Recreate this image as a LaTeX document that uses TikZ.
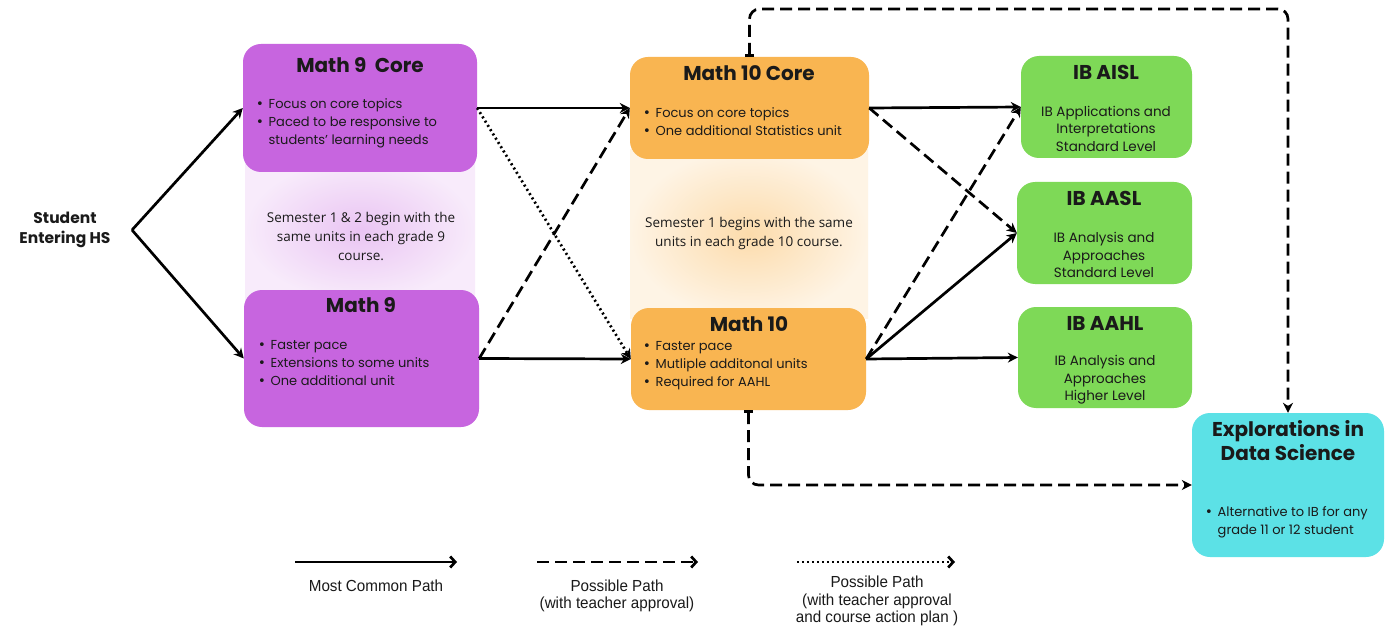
\documentclass[tikz,border=0pt]{standalone}
\usepackage{fontspec}
\setmainfont{Poppins}
\newfontfamily\legendfont[FakeStretch=0.95]{Liberation Sans}
\newfontfamily\semfont{Open Sans}
\newfontfamily\djv{DejaVu Sans}
\newcommand{\bul}{\makebox[12.5pt][l]{{\djv •}}}
\usetikzlibrary{arrows.meta}
\definecolor{purp}{HTML}{C765DF}
\definecolor{orng}{HTML}{F9B551}
\definecolor{grn}{HTML}{7ED957}
\definecolor{cyn}{HTML}{5CE1E6}
\definecolor{txt}{HTML}{1A1A1A}
\begin{document}
\begin{tikzpicture}[x=1pt,y=-1pt,
  box/.style={rounded corners=18pt, inner sep=0pt},
  ttl/.style={font=\fontsize{20}{24}\selectfont\bfseries, text=txt, inner sep=0pt},
  bod/.style={font=\fontsize{13}{18}\selectfont, text=txt, align=left, anchor=north west, inner sep=0pt},
  cbod/.style={font=\fontsize{13.5}{17.5}\selectfont, text=txt, align=center, inner sep=0pt},
  sem/.style={font=\semfont\fontsize{13.5}{19}\selectfont, text=txt, align=center, inner sep=0pt},
  sol/.style={line width=2.7pt, -{Stealth[length=10pt,width=10pt]}},
  dsh/.style={line width=2.7pt, dash pattern=on 12pt off 6pt, -{Stealth[length=10pt,width=10pt]}},
  dot/.style={line width=2.7pt, dash pattern=on 2pt off 3pt, -{Stealth[length=10pt,width=10pt]}},
  leg/.style={font=\legendfont\fontsize{16}{17.5}\selectfont, text=txt, align=center, inner sep=0pt}
]
\useasboundingbox (0,0) rectangle (1388,628);
\fill[white] (0,0) rectangle (1388,628);

% gradient bands
\shade[inner color=purp!38, outer color=purp!13] (245,160) rectangle (475,300);
\shade[inner color=orng!48, outer color=orng!15] (630,150) rectangle (868,318);

% boxes
\node[box, fill=purp, minimum width=234pt, minimum height=128pt] (m9c) at (360,108) {};
\node[box, fill=purp, minimum width=235pt, minimum height=137pt] (m9) at (361.5,358.5) {};
\node[box, fill=orng, minimum width=239pt, minimum height=102pt] (m10c) at (749.5,108) {};
\node[box, fill=orng, minimum width=235pt, minimum height=102pt] (m10) at (748.5,359) {};
\node[box, fill=grn, minimum width=171pt, minimum height=102pt] (aisl) at (1106.5,107) {};
\node[box, fill=grn, minimum width=175pt, minimum height=102pt] (aasl) at (1104.5,233) {};
\node[box, fill=grn, minimum width=174pt, minimum height=101pt] (aahl) at (1105,357.5) {};
\node[box, fill=cyn, minimum width=192pt, minimum height=144pt] (eds) at (1288,485) {};

% texts
\node[font=\fontsize{15.5}{20}\selectfont\bfseries, text=txt, align=center] (stu) at (65,230) {Student\\Entering HS};

\node[ttl] (m9ct) at (360,65) {Math 9\ \ Core};
\node[bod] (m9cb) at (256,98) {\bul Focus on core topics\\\bul Paced to be responsive to\\\phantom{\bul}students’ learning needs};

\node[sem] (sem9) at (361,236) {Semester 1 \& 2 begin with the\\same units in each grade 9\\course.};

\node[ttl] (m9t) at (361,305) {Math 9};
\node[bod] (m9b) at (258,340) {\bul Faster pace\\\bul Extensions to some units\\\bul One additional unit};

\node[ttl] (m10ct) at (749,73) {Math 10 Core};
\node[bod] (m10cb) at (643,107) {\bul Focus on core topics\\\bul One additional Statistics unit};

\node[sem] (sem10) at (749,233.5) {Semester 1 begins with the same\\units in each grade 10 course.};

\node[ttl] (m10t) at (749,324) {Math 10};
\node[bod] (m10b) at (643,341) {\bul Faster pace\\\bul Mutliple additonal units\\\bul Required for AAHL};

\node[ttl] (aislt) at (1106,72) {IB AISL};
\node[cbod] (aislb) at (1106,128.5) {IB Applications and\\Interpretations\\Standard Level};
\node[ttl] (aaslt) at (1104,198) {IB AASL};
\node[cbod] (aaslb) at (1104,255) {IB Analysis and\\Approaches\\Standard Level};
\node[ttl] (aahlt) at (1105,323) {IB AAHL};
\node[cbod] (aahlb) at (1105,380) {IB Analysis and\\Approaches\\Higher Level};

\node[font=\fontsize{20}{24}\selectfont\bfseries, text=txt, align=center, inner sep=0pt] (edst) at (1288,441) {Explorations in\\Data Science};
\node[bod] (edsb) at (1205,506) {\bul Alternative to IB for any\\\phantom{\bul}grade 11 or 12 student};

% connectors
\coordinate (fork) at (132,230);
\draw[sol] (fork) -- (m9c.west);
\draw[sol] (fork) -- (m9.west);
\draw[sol] (m9c.east) -- (m10c.west);
\draw[dot] (m9c.east) -- (m10.west);
\draw[dsh] (m9.east) -- (m10c.west);
\draw[sol] (m9.east) -- (m10.west);
\draw[sol] (m10c.east) -- (aisl.west);
\draw[dsh] (m10c.east) -- (aasl.west);
\draw[dsh] (m10.east) -- (aisl.west);
\draw[sol] (m10.east) -- (aasl.west);
\draw[sol] (m10.east) -- (aahl.west);
\coordinate (topy) at (0,9);
\draw[dsh, rounded corners=10pt, {Bar[width=9pt]}-{Stealth[length=10pt,width=10pt]}] (m10c.north) |- (eds.north |- topy) -- (eds.north);
\draw[dsh, rounded corners=10pt, {Bar[width=9pt]}-{Stealth[length=10pt,width=10pt]}] (m10.south) |- (eds.west);

% legend
\coordinate (l1a) at (295,562); \coordinate (l1b) at (457,562);
\coordinate (l2a) at (537,562); \coordinate (l2b) at (698,562);
\coordinate (l3a) at (797,562); \coordinate (l3b) at (955,562);
\draw[line width=2.7pt, -{Straight Barb[length=5pt,width=11pt]}] (l1a) -- (l1b);
\draw[line width=2.7pt, dash pattern=on 12pt off 6pt, -{Straight Barb[length=5pt,width=11pt]}] (l2a) -- (l2b);
\draw[line width=2.7pt, dash pattern=on 2pt off 3pt, -{Straight Barb[length=5pt,width=11pt]}] (l3a) -- (l3b);
\node[leg] (lt1) at (376,586) {Most Common Path};
\node[leg] (lt2) at (617,596) {Possible Path\\(with teacher approval)};
\node[leg] (lt3) at (877,601) {Possible Path\\(with teacher approval\\and course action plan )};
\end{tikzpicture}
\end{document}
